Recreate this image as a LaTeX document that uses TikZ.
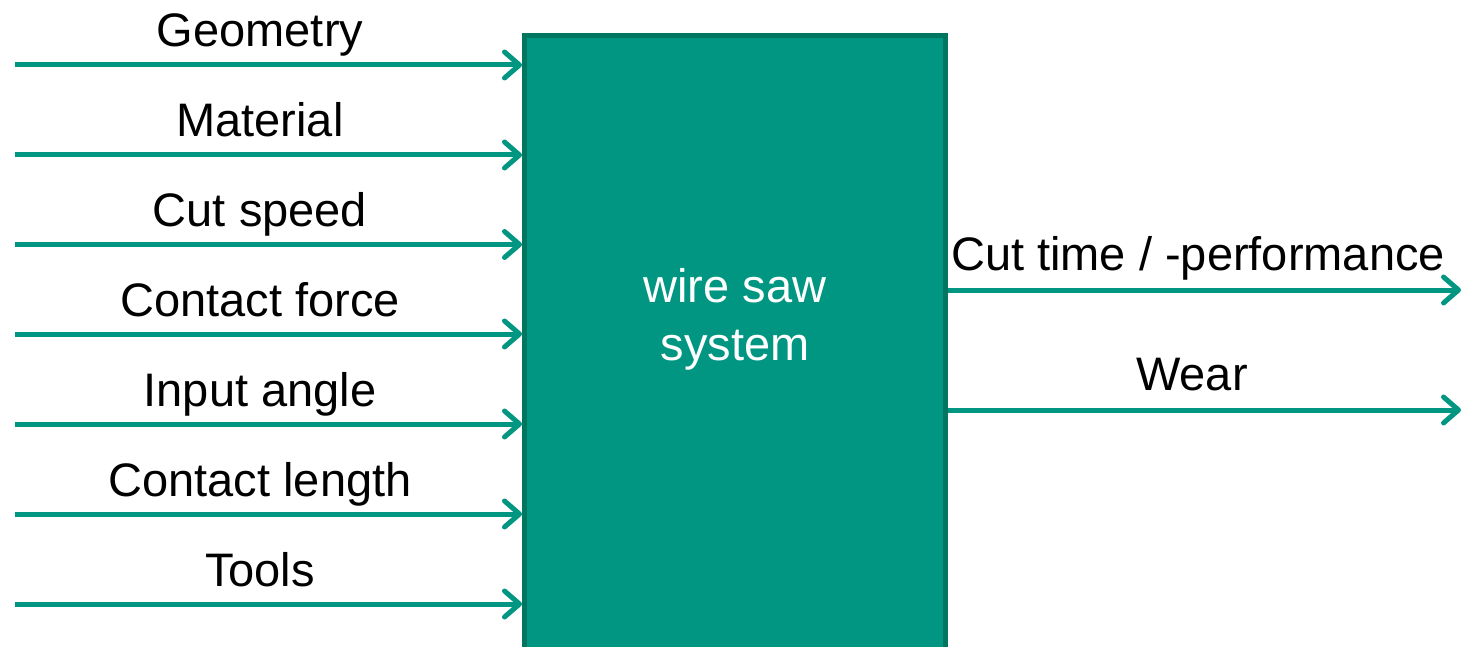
\documentclass[tikz,border=0pt]{standalone}
\usepackage{fontspec}
\setmainfont{Liberation Sans}
\usetikzlibrary{arrows.meta}
\definecolor{teal1}{RGB}{0,150,129}
\definecolor{teal2}{RGB}{0,117,96}
\begin{document}
\begin{tikzpicture}[x=1pt,y=-1pt,
  lbl/.style={anchor=base,inner sep=0pt,font=\fontsize{47}{57}\selectfont},
  flow/.style={draw=teal1,line width=5pt,
    -{Straight Barb[length=15pt,width=26pt,round]}},
  sysbox/.style={draw=teal2,fill=teal1,line width=5pt,inner sep=0pt,
    minimum width=421pt,minimum height=650pt}]
\useasboundingbox (0,0) rectangle (1463,647);
\clip (0,0) rectangle (1463,647);
% the system block (runs past the lower edge)
\node[sysbox,anchor=north west] (sys) at (522,33) {};
\node[lbl,text=white] (sysa) at (735,302) {wire saw};
\node[lbl,text=white] (sysb) at (735,360) {system};
% inputs on the left
\foreach \i/\y/\t in {1/65/Geometry,2/155/Material,3/244.5/Cut speed,
    4/334/Contact force,5/424/Input angle,6/514/Contact length,7/604/Tools}{
  \coordinate (in\i) at (15,\y);
  \draw[flow] (in\i) -- (in\i -| sys.west);
  \node[lbl] (inl\i) at (260,\y-18) {\t};
}
% outputs on the right
\coordinate (out1) at (1461,290);
\coordinate (out2) at (1461,410);
\draw[flow] (out1 -| sys.east) -- (out1);
\draw[flow] (out2 -| sys.east) -- (out2);
\node[lbl] (outl1) at (1198,270) {Cut time / -performance};
\node[lbl] (outl2) at (1192,390) {Wear};
\end{tikzpicture}
\end{document}
